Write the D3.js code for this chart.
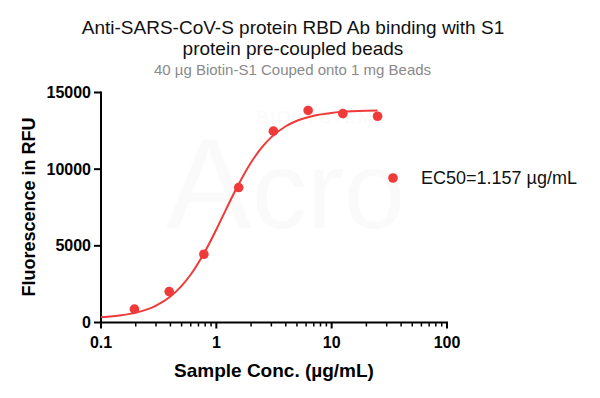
<!DOCTYPE html>
<html>
<head>
<meta charset="utf-8">
<script src="https://cdn.jsdelivr.net/npm/d3@7"></script>
<style>
  body { margin: 0; background: #fff; }
  svg text { font-family: "Liberation Sans", Arial, sans-serif; }
</style>
</head>
<body>
<div id="chart"></div>
<script>
// measured points (µg/mL, RFU)
const conc = [0.195, 0.39, 0.78, 1.5625, 3.125, 6.25, 12.5, 25];
const rfu = [870, 2015, 4450, 8800, 12480, 13830, 13620, 13450];

// fitted curve
const fitConc = [0.1, 0.15, 0.2, 0.3, 0.4, 0.5, 0.6, 0.8, 1.0, 1.2, 1.5, 2, 2.5, 3, 4, 5, 7, 10, 15, 20, 25];
const fitRfu = [350, 475, 645, 1107, 1700, 2390, 3130, 4650, 6065, 7300, 8775, 10440, 11450, 12090, 12800, 13160, 13490, 13670, 13770, 13805, 13820];

const xTicks = [0.1, 1, 10, 100];
const yTicks = [0, 5000, 10000, 15000];
const titleLines = ['Anti-SARS-CoV-S protein RBD Ab binding with S1', 'protein pre-coupled beads'];
const subtitle = '40 µg Biotin-S1 Couped onto 1 mg Beads';
const legendLabel = 'EC50=1.157 µg/mL';

const width = 600, height = 398;
const red = '#f03a3a';

const svg = d3.select('#chart').append('svg')
  .attr('width', width)
  .attr('height', height);

const x = d3.scaleLog().domain([0.1, 100]).range([101, 447]);
const y = d3.scaleLinear().domain([0, 15000]).range([322.5, 92.5]);

// faint watermark (barely visible in the original)
const wm = svg.append('g').attr('fill', '#fafafa');
wm.append('text')
  .attr('x', 166).attr('y', 228)
  .attr('font-size', 128)
  .text('A');
wm.append('text')
  .attr('x', 252).attr('y', 228)
  .attr('font-size', 110)
  .text('cro');
wm.append('text')
  .attr('x', 257).attr('y', 123)
  .attr('font-size', 17)
  .attr('letter-spacing', 2)
  .text('BIOSYSTEMS');

// titles
svg.selectAll('.title')
  .data(titleLines)
  .enter().append('text')
  .attr('class', 'title')
  .attr('x', 293)
  .attr('y', (d, i) => 33.5 + i * 21.5)
  .attr('text-anchor', 'middle')
  .attr('font-size', 19)
  .attr('fill', '#111')
  .text(d => d);

svg.append('text')
  .attr('x', 292.5).attr('y', 74.5)
  .attr('text-anchor', 'middle')
  .attr('font-size', 15)
  .attr('fill', '#8a8a8a')
  .text(subtitle);

// x axis with minor ticks
const minor = [];
[0.1, 1, 10].forEach(dec => {
  for (let k = 2; k <= 9; k++) { minor.push(dec * k); }
});

const xAxisG = svg.append('g').attr('transform', 'translate(0,' + y(0) + ')');
xAxisG.append('line')
  .attr('x1', x(0.1) - 1).attr('x2', x(100) + 1)
  .attr('stroke', '#000').attr('stroke-width', 2);
xAxisG.selectAll('.minor')
  .data(minor)
  .enter().append('line')
  .attr('class', 'minor')
  .attr('x1', d => x(d)).attr('x2', d => x(d))
  .attr('y1', 0).attr('y2', 4)
  .attr('stroke', '#000').attr('stroke-width', 1.5);
xAxisG.selectAll('.major')
  .data(xTicks)
  .enter().append('line')
  .attr('class', 'major')
  .attr('x1', d => x(d)).attr('x2', d => x(d))
  .attr('y1', 0).attr('y2', 6)
  .attr('stroke', '#000').attr('stroke-width', 2);
xAxisG.selectAll('.xlab')
  .data(xTicks)
  .enter().append('text')
  .attr('class', 'xlab')
  .attr('x', d => x(d))
  .attr('y', 25)
  .attr('text-anchor', 'middle')
  .attr('font-size', 16)
  .attr('font-weight', 'bold')
  .text(d => d3.format('~g')(d));

// y axis
const yAxisG = svg.append('g').attr('transform', 'translate(' + x(0.1) + ',0)');
yAxisG.append('line')
  .attr('y1', y(15000) - 1).attr('y2', y(0) + 1)
  .attr('stroke', '#000').attr('stroke-width', 2);
yAxisG.selectAll('.ytick')
  .data(yTicks)
  .enter().append('line')
  .attr('class', 'ytick')
  .attr('x1', -7).attr('x2', 0)
  .attr('y1', d => y(d)).attr('y2', d => y(d))
  .attr('stroke', '#000').attr('stroke-width', 2);
yAxisG.selectAll('.ylab')
  .data(yTicks)
  .enter().append('text')
  .attr('class', 'ylab')
  .attr('x', -10)
  .attr('y', d => y(d))
  .attr('dy', '0.35em')
  .attr('text-anchor', 'end')
  .attr('font-size', 16)
  .attr('font-weight', 'bold')
  .text(d => d);

// axis titles
svg.append('text')
  .attr('x', 274).attr('y', 377)
  .attr('text-anchor', 'middle')
  .attr('font-size', 19)
  .attr('font-weight', 'bold')
  .text('Sample Conc. (µg/mL)');

svg.append('text')
  .attr('transform', 'translate(35,207) rotate(-90)')
  .attr('text-anchor', 'middle')
  .attr('font-size', 18)
  .attr('font-weight', 'bold')
  .text('Fluorescence in RFU');

// fitted curve
const line = d3.line()
  .x(d => x(d[0]))
  .y(d => y(d[1]))
  .curve(d3.curveMonotoneX);

svg.append('path')
  .datum(fitConc.map((c, i) => [c, fitRfu[i]]))
  .attr('d', line)
  .attr('fill', 'none')
  .attr('stroke', red)
  .attr('stroke-width', 2);

// points
svg.selectAll('.pt')
  .data(conc.map((c, i) => [c, rfu[i]]))
  .enter().append('circle')
  .attr('class', 'pt')
  .attr('cx', d => x(d[0]))
  .attr('cy', d => y(d[1]))
  .attr('r', 4.8)
  .attr('fill', red);

// legend
svg.append('circle')
  .attr('cx', 393).attr('cy', 178)
  .attr('r', 4.8)
  .attr('fill', red);
svg.append('text')
  .attr('x', 421).attr('y', 178)
  .attr('dy', '0.35em')
  .attr('font-size', 18)
  .attr('fill', '#111')
  .text(legendLabel);
</script>
</body>
</html>
